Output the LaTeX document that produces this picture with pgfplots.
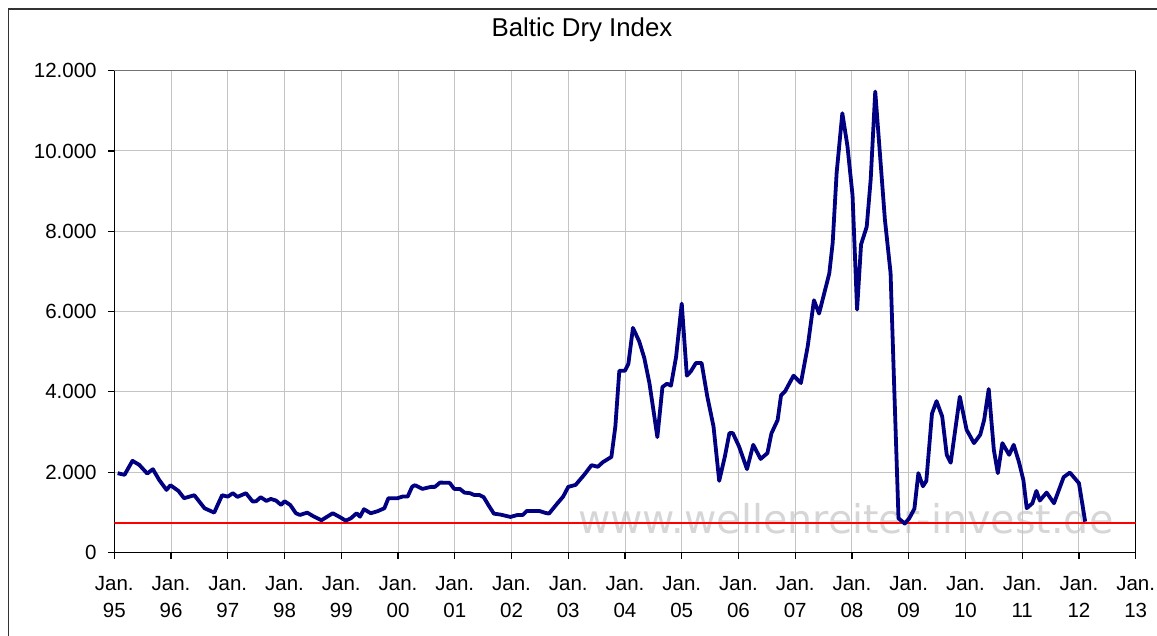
\documentclass[border=0pt]{standalone}
\usepackage{fontspec}
\setmainfont{Liberation Sans}
\newfontfamily\wmfont{DejaVu Sans}
\usepackage{pgfplots}
\pgfplotsset{compat=1.18}
\definecolor{bdi}{HTML}{000080}
\definecolor{gridgray}{HTML}{C4C4C4}
\definecolor{wm}{HTML}{D6D6D6}
\begin{document}
\begin{tikzpicture}[x=1pt,y=1pt]
\path[use as bounding box] (0,0) rectangle (1157,635);
\draw[line width=1.5pt, black!80] (8.3,-2) -- (8.3,626) -- (1160,626);
\node[font=\fontsize{25.8}{25.8}\selectfont] at (582,605) {Baltic Dry Index};
\node[text=wm, font=\wmfont\fontsize{39.6}{39.6}\selectfont, anchor=base west, inner sep=0pt] at (578,102) {www.wellenreiter-invest.de};
\begin{axis}[
  at={(114.3pt,82.5pt)}, anchor=south west,
  scale only axis, width=1021.4pt, height=481.8pt,
  xmin=1995, xmax=2013, ymin=0, ymax=12000,
  xtick={1995,1996,...,2013},
  xticklabels={{Jan.\\95},{Jan.\\96},{Jan.\\97},{Jan.\\98},{Jan.\\99},{Jan.\\00},{Jan.\\01},{Jan.\\02},{Jan.\\03},{Jan.\\04},{Jan.\\05},{Jan.\\06},{Jan.\\07},{Jan.\\08},{Jan.\\09},{Jan.\\10},{Jan.\\11},{Jan.\\12},{Jan.\\13}},
  ytick={0,2000,...,12000},
  scaled y ticks=false,
  /pgf/number format/1000 sep={.},
  /pgf/number format/assume math mode=true,
  grid=major,
  major grid style={color=gridgray, line width=1pt},
  axis line style={black, line width=1.3pt},
  tick style={black, line width=1.2pt},
  tick align=outside, major tick length=6.5pt,
  tick pos=left,
  ticklabel style={font=\fontsize{20.5}{27.5}\selectfont},
  xticklabel style={align=center, anchor=north, inner sep=0pt, yshift=-17pt},
  yticklabel style={anchor=east, inner sep=0pt, xshift=-11pt},
]
\addplot[red, line width=2pt] coordinates {(1995,730) (2013,730)};
\addplot[bdi, line width=3.8pt, line join=round] table {
x y
1995.06 1976
1995.18 1934
1995.32 2283
1995.44 2183
1995.58 1966
1995.68 2075
1995.79 1809
1995.92 1559
1995.99 1676
1996.13 1534
1996.23 1352
1996.41 1427
1996.59 1103
1996.76 993
1996.90 1427
1997.00 1392
1997.09 1477
1997.17 1385
1997.32 1477
1997.44 1268
1997.50 1277
1997.58 1377
1997.68 1285
1997.76 1335
1997.85 1293
1997.94 1185
1998.00 1277
1998.10 1185
1998.20 978
1998.27 935
1998.40 993
1998.52 893
1998.65 803
1998.85 978
1998.96 893
1999.08 793
1999.17 853
1999.27 978
1999.33 893
1999.40 1078
1999.52 978
1999.64 1028
1999.76 1103
1999.83 1352
1999.99 1352
2000.08 1393
2000.17 1393
2000.25 1642
2000.30 1676
2000.43 1584
2000.58 1634
2000.65 1634
2000.74 1742
2000.91 1734
2000.99 1584
2001.09 1584
2001.17 1492
2001.27 1477
2001.34 1434
2001.43 1434
2001.51 1377
2001.61 1143
2001.69 968
2001.81 943
2001.98 886
2002.11 936
2002.20 936
2002.27 1035
2002.49 1035
2002.58 993
2002.66 968
2002.81 1227
2002.91 1392
2003.00 1635
2003.13 1684
2003.28 1934
2003.41 2175
2003.52 2135
2003.61 2250
2003.76 2380
2003.83 3139
2003.90 4528
2004.00 4528
2004.06 4703
2004.14 5594
2004.25 5260
2004.34 4845
2004.43 4221
2004.50 3555
2004.57 2874
2004.66 4122
2004.74 4204
2004.81 4154
2004.90 4870
2005.00 6200
2005.09 4404
2005.16 4511
2005.25 4720
2005.35 4720
2005.45 3887
2005.56 3139
2005.66 1784
2005.76 2390
2005.84 2974
2005.90 2974
2006.01 2640
2006.15 2076
2006.26 2682
2006.39 2330
2006.51 2475
2006.58 2965
2006.69 3300
2006.75 3915
2006.82 4012
2006.97 4404
2007.10 4221
2007.22 5135
2007.33 6283
2007.42 5951
2007.51 6450
2007.60 6949
2007.66 7714
2007.73 9461
2007.83 10941
2007.92 10125
2008.01 8895
2008.09 6050
2008.16 7672
2008.26 8114
2008.33 9294
2008.41 11482
2008.50 9793
2008.58 8296
2008.68 6966
2008.74 4304
2008.82 853
2008.93 720
2009.01 853
2009.10 1090
2009.17 1976
2009.25 1650
2009.31 1780
2009.41 3460
2009.49 3770
2009.59 3388
2009.67 2433
2009.74 2235
2009.90 3880
2010.02 3056
2010.15 2724
2010.26 2932
2010.33 3306
2010.41 4072
2010.50 2557
2010.57 1976
2010.65 2724
2010.77 2433
2010.85 2682
2010.94 2266
2011.02 1809
2011.08 1103
2011.18 1227
2011.25 1534
2011.31 1293
2011.43 1492
2011.56 1227
2011.73 1876
2011.84 1991
2012.00 1726
2012.11 768
};
\end{axis}
\draw[line width=1.3pt, black!55] (114.3,564.3) -- (1135.7,564.3);
\end{tikzpicture}
\end{document}
